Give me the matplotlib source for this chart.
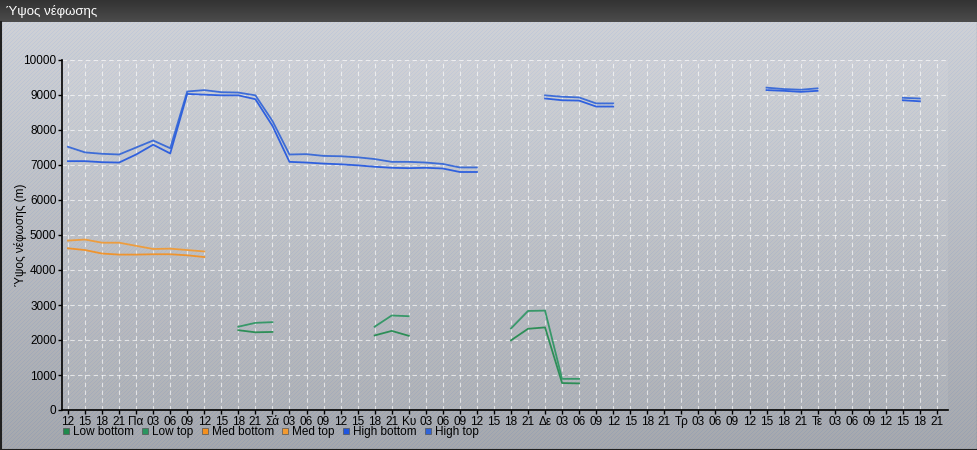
import numpy as np
import matplotlib
matplotlib.use("Agg")
import matplotlib.pyplot as plt
from matplotlib.lines import Line2D

nan = np.nan

# x axis: 3-hourly steps
first_hours = ["12", "15", "18", "21"]
days = ["Πα", "Σά", "Κυ", "Δε", "Τρ", "Τε"]
day_hours = ["03", "06", "09", "12", "15", "18", "21"]
tick_labels = first_hours + [t for d in days for t in [d] + day_hours]

# cloud heights (m), nan where no cloud layer
low_bottom = [nan]*10 + [2280, 2220, 2230] + [nan]*5 + [2130, 2260, 2120] + [nan]*5 \
    + [1990, 2320, 2360, 770, 760] + [nan]*21
low_top = [nan]*10 + [2380, 2490, 2510] + [nan]*5 + [2380, 2700, 2680] + [nan]*5 \
    + [2330, 2830, 2840, 890, 890] + [nan]*21
med_bottom = [4620, 4570, 4470, 4440, 4440, 4450, 4450, 4420, 4370] + [nan]*43
med_top = [4840, 4870, 4780, 4780, 4690, 4600, 4610, 4570, 4530] + [nan]*43
high_bottom = [7110, 7110, 7080, 7070, 7300, 7580, 7330, 9030, 9010, 8990, 8990, 8880, 8120,
               7090, 7070, 7040, 7020, 6990, 6950, 6920, 6910, 6920, 6900, 6800, 6800] \
    + [nan]*3 + [8900, 8850, 8840, 8670, 8670] + [nan]*8 + [9140, 9120, 9090, 9120] \
    + [nan]*4 + [8850, 8820] + [nan]
high_top = [7520, 7360, 7320, 7300, 7500, 7700, 7480, 9100, 9140, 9080, 9070, 8990, 8260,
            7300, 7310, 7260, 7250, 7220, 7170, 7090, 7090, 7070, 7030, 6930, 6930] \
    + [nan]*3 + [8990, 8950, 8930, 8760, 8760] + [nan]*8 + [9210, 9170, 9150, 9190] \
    + [nan]*4 + [8920, 8900] + [nan]

series = [
    ("Low bottom", low_bottom, "#1f8a4c"),
    ("Low top", low_top, "#2a9560"),
    ("Med bottom", med_bottom, "#f5901e"),
    ("Med top", med_top, "#f39a30"),
    ("High bottom", high_bottom, "#1f55e0"),
    ("High top", high_top, "#2f63d8"),
]

plt.rcParams['font.family'] = ['Liberation Sans', 'DejaVu Sans']

W, H = 978, 450
fig = plt.figure(figsize=(W/100, H/100), dpi=100)

# background: gradient with fine diagonal stripes
bg = fig.add_axes([0, 0, 1, 1])
yy, xx = np.mgrid[0:H, 0:W]
shade = 0.82 - 0.17 * (yy / H)
stripe = ((xx + yy) % 4 == 0)
img = np.zeros((H, W, 3))
img[..., 0] = shade - stripe * 0.05
img[..., 1] = shade + 0.01 - stripe * 0.03
img[..., 2] = shade + 0.03 + stripe * 0.01
# title bar
bar = yy < 22
tb = 0.20 + 0.10 * (yy / 22)
for c in range(3):
    img[..., c] = np.where(bar, tb, img[..., c])
bg.imshow(np.clip(img, 0, 1), aspect="auto", extent=[0, W, H, 0])
bg.set_xlim(0, W)
bg.set_ylim(H, 0)
bg.axis("off")
bg.plot([0.5, 0.5, W-0.5, W-0.5], [22, H-0.5, H-0.5, 22], color="#202020", lw=1.5)
fig.text(6/W, 1 - 12/H, "Ύψος νέφωσης", color="white", fontsize=9.5, va="center", ha="left")

ax = fig.add_axes([62/W, 1 - 410/H, (948-62)/W, 350/H])
ax.set_facecolor((1, 1, 1, 0.08))
x = np.arange(len(tick_labels))
for name, vals, col in series:
    ax.plot(x, vals, color=col, lw=1.3, alpha=0.9)

ax.set_xlim(-0.35, 51.65)
ax.set_ylim(0, 10000)
ax.set_xticks(x)
ax.set_xticklabels(tick_labels, fontsize=8.5)
ax.set_yticks(np.arange(0, 10001, 1000))
ax.set_yticklabels([str(v) for v in range(0, 10001, 1000)], fontsize=8.5)
ax.tick_params(axis="both", length=3, width=1, color="black", pad=1)
ax.set_ylabel("Ύψος νέφωσης (m)", fontsize=8.5)
ax.yaxis.set_label_coords((27 - 62) / 886, 0.5)
ax.grid(True, color="white", ls=(0, (4, 3)), lw=0.8, alpha=0.65)
for s in ["top", "right"]:
    ax.spines[s].set_visible(False)
for s in ["left", "bottom"]:
    ax.spines[s].set_color("black")
    ax.spines[s].set_linewidth(1.2)

handles = [Line2D([], [], marker="s", ls="none", color=c, markersize=5, markeredgecolor="#555555",
                  markeredgewidth=0.5, label=n) for n, _, c in series]
fig.legend(handles=handles, loc="center left", bbox_to_anchor=(54/W, 1 - 432/H), ncol=6,
           frameon=False, fontsize=8.5, handletextpad=0.1, columnspacing=0.45, borderpad=0,
           handlelength=1.0)

fig.savefig("out.png", dpi=100)
